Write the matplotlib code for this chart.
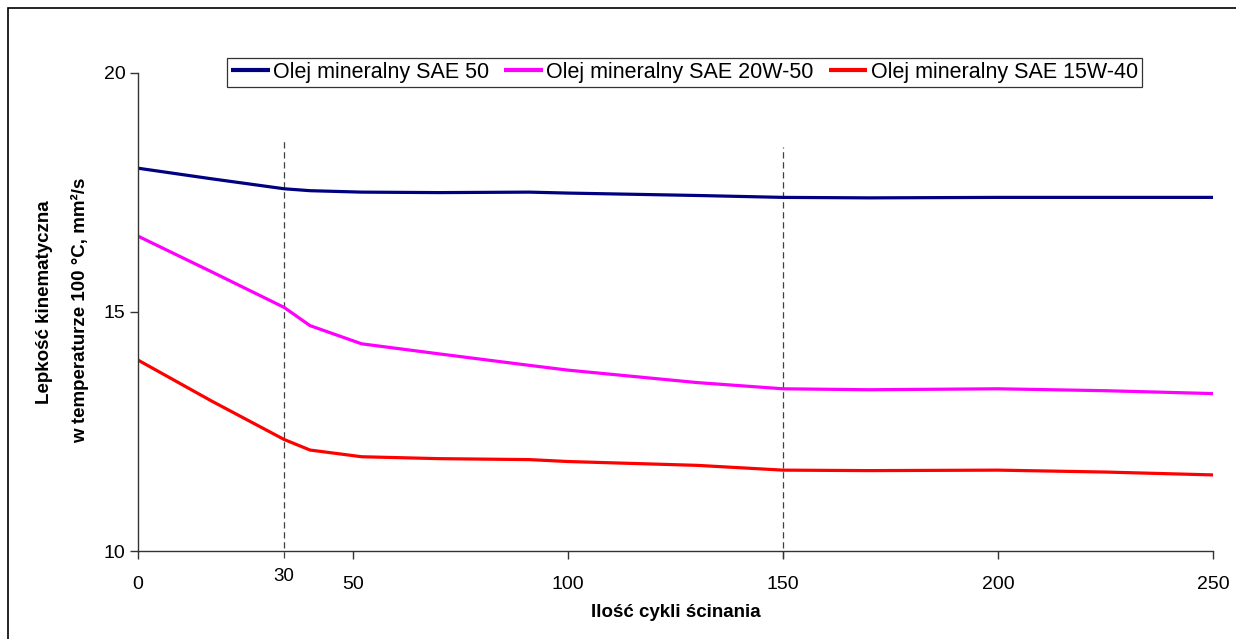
import matplotlib
matplotlib.use("Agg")
import matplotlib.pyplot as plt
from matplotlib.patches import Rectangle

plt.rcParams['font.family'] = ['Liberation Sans', 'DejaVu Sans']

# ---- data ----
cycles = [0, 17, 34, 40, 52, 70, 91, 100, 130, 150, 170, 200, 225, 250]
sae50 = [18.0, 17.78, 17.57, 17.53, 17.5, 17.49, 17.5, 17.48, 17.43, 17.39, 17.38, 17.39, 17.39, 17.39]
sae20w50 = [16.58, 15.84, 15.09, 14.71, 14.33, 14.12, 13.88, 13.78, 13.52, 13.39, 13.37, 13.39, 13.35, 13.29]
sae15w40 = [13.99, 13.14, 12.33, 12.11, 11.97, 11.93, 11.91, 11.87, 11.79, 11.69, 11.68, 11.69, 11.65, 11.59]
series_labels = ["Olej mineralny SAE 50", "Olej mineralny SAE 20W-50", "Olej mineralny SAE 15W-40"]
series_colors = ["#000080", "#FF00FF", "#FF0000"]
x_ticks = [0, 50, 100, 150, 200, 250]
y_ticks = [10, 15, 20]
marker_lines = [34, 150]
marker_tops = [18.63, 18.44]
marker_text = "30"

fig = plt.figure(figsize=(12.36, 6.39), dpi=100)
fig.patch.set_facecolor('white')
fig.add_artist(Rectangle((8/1236, -0.1), 1.2, (1 - 8/639) + 0.1, transform=fig.transFigure,
                         fill=False, edgecolor='black', linewidth=1.2))

ax = fig.add_axes([138/1236, 1 - 551/639, (1213 - 138)/1236, (551 - 72.5)/639])

for ys, lab, col in zip([sae50, sae20w50, sae15w40], series_labels, series_colors):
    ax.plot(cycles, ys, color=col, linewidth=2.3, label=lab, solid_joinstyle='round',
            solid_capstyle='butt')

for xv, top in zip(marker_lines, marker_tops):
    ax.plot([xv, xv], [9.85, top], color='#404040', linewidth=0.9, linestyle=(0, (5, 3)),
            clip_on=False, zorder=1)

ax.text(marker_lines[0], 9.47, marker_text, ha='center', va='center', fontsize=13.5,
        transform=ax.transData)

ax.set_xlim(0, 250)
ax.set_ylim(10, 20)
ax.set_xticks(x_ticks)
ax.set_yticks(y_ticks)
ax.tick_params(axis='both', direction='out', length=6, width=1, labelsize=14, color='#333333')
ax.tick_params(axis='x', pad=12)
ax.tick_params(axis='y', pad=3)
for s in ['top', 'right']:
    ax.spines[s].set_visible(False)
for s in ['left', 'bottom']:
    ax.spines[s].set_linewidth(1.0)
    ax.spines[s].set_color('#333333')

ax.set_xlabel("Ilość cykli ścinania", fontsize=13.5, fontweight='bold', labelpad=8)
fig.text(45/1236, 1 - 302/639, "Lepkość kinematyczna", rotation=90, ha='center', va='center',
         fontsize=13.5, fontweight='bold')
fig.text(80/1236, 1 - 310/639, "w temperaturze 100 °C, mm²/s", rotation=90, ha='center',
         va='center', fontsize=13.5, fontweight='bold')

leg = fig.legend(loc='center', bbox_to_anchor=(684.5/1236, 1 - 72.5/639), ncol=3,
                 fontsize=15.5, frameon=True, fancybox=False, handlelength=1.8,
                 handletextpad=0.15, columnspacing=0.7, borderpad=0.2, borderaxespad=0)
leg.get_frame().set_edgecolor('black')
leg.get_frame().set_linewidth(0.9)
for h in leg.get_lines():
    h.set_linewidth(3)

fig.savefig("out.png", dpi=100, facecolor='white')
